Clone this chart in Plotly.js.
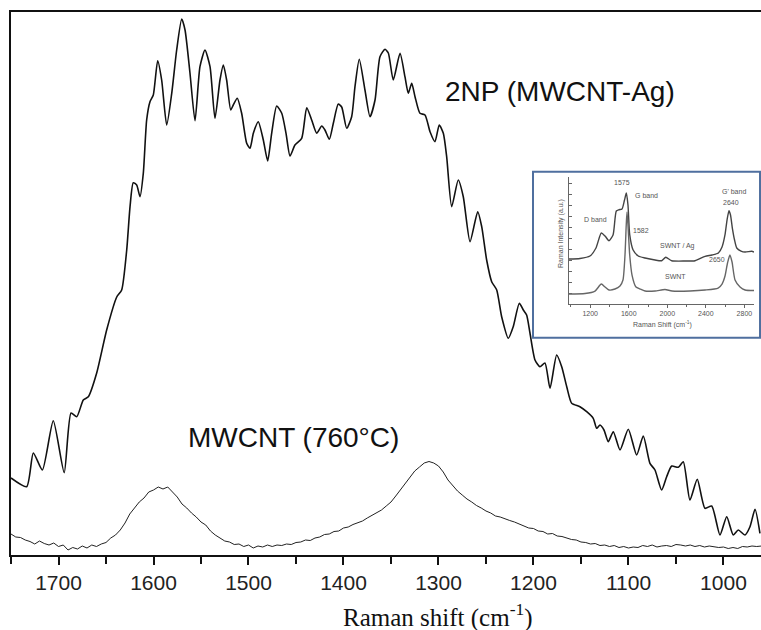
<!DOCTYPE html>
<html>
<head>
<meta charset="utf-8">
<script src="https://cdn.plot.ly/plotly-3.0.1.min.js"></script>
<style>html,body{margin:0;padding:0;background:#fff}#chart{width:761px;height:630px}</style>
</head>
<body>
<div id="chart"></div>
<script>
// ---- Main chart: 2NP (MWCNT-Ag) spectrum ----
const np2Shift = [1750,1733.5,1726.5,1717,1705.5,1694,1686.8,1680.8,1673.9,1668.6,1659.8,1649.3,1638.7,1633.5,1628.2,1624.7,1621.3,1617.7,1614.2,1610.7,1607.2,1603.7,1600.2,1595.6,1591.4,1586.1,1580.8,1575.6,1570.3,1566.8,1561.6,1556.3,1551.1,1545.8,1540.5,1535.3,1530,1526.5,1523,1518.7,1516,1511.8,1507.2,1501.9,1498.4,1494.9,1489.7,1484.4,1479.8,1475.6,1470.3,1465,1460.5,1456.3,1451.1,1444,1438.7,1433.5,1428.2,1422.9,1419.5,1414.9,1410.7,1405.5,1401.9,1396.6,1391.4,1387.9,1383.4,1377.4,1372.1,1366.8,1361.6,1356.3,1352.8,1347.6,1340.5,1335.3,1331.8,1328.2,1324.7,1319.5,1314.2,1308.9,1303.7,1299.2,1294.9,1291.4,1286.1,1279.2,1273.9,1266.8,1258.7,1254.5,1249.3,1244,1238.7,1233.5,1226.5,1221.3,1214.9,1210.7,1207.2,1203.7,1198.4,1193.2,1187.9,1182.6,1175.6,1170.3,1165,1159.8,1151.1,1144,1137.1,1133.5,1130,1125.8,1121.3,1116,1108.9,1100.2,1091.4,1084.4,1077.4,1072.1,1065.1,1059.8,1054.5,1047.6,1042.3,1035.3,1027.6,1019.5,1012.4,1003.7,996.6,989.7,984.4,977.4,972.1,966.8,961.6];
const np2Int = [77,68.3,102,85,134.3,82.3,142,138.3,155,158.3,182,225,258,265,305,348.3,372.3,370,358.3,382,435,453.3,460,494.3,475,430,461.7,505,536,525,482,434.3,488.3,505,488.3,436.7,475,490,475,445,450,456.7,441.7,411.7,406.7,421.7,433.3,415,394,421.7,449,441.7,421.7,399,410,416.7,447.3,435,421.7,429,425,415.7,431.7,451,448,426.7,438.3,468.3,495.7,465,438.3,455,498.3,505.7,502,475,501.7,478.3,461.7,471.7,458.3,441.7,440,423.3,413.3,430,421.7,398.3,348.3,375,358.3,313.3,343.3,328.3,295,273.3,265,238.3,216.7,228.3,251.7,245,240,222,195,188.3,192,166.7,200,188.3,168.3,151.7,148.3,143.3,136.7,126.7,130,125,113.3,123.3,105,125.7,100,119,91.7,85,65,78.3,89,87.7,93.3,55,75.7,46.7,49,20,38.3,20,25,20,28.3,45.7,21.7];

// ---- Main chart: MWCNT (760°C) spectrum ----
const mwShift = [1750,1745,1740,1735,1730,1725,1720,1715,1710,1705,1700,1695,1690,1685,1680,1675,1670,1665,1660,1655,1650,1645,1640,1635,1630,1625,1620,1615,1610,1605,1600,1595,1590,1585,1580,1575,1570,1565,1560,1555,1550,1545,1540,1535,1530,1525,1520,1515,1510,1505,1500,1495,1490,1485,1480,1475,1470,1465,1460,1455,1450,1445,1440,1435,1430,1425,1420,1415,1410,1405,1400,1395,1390,1385,1380,1375,1370,1365,1360,1355,1350,1345,1340,1335,1330,1325,1320,1315,1310,1305,1300,1295,1290,1285,1280,1275,1270,1265,1260,1255,1250,1245,1240,1235,1230,1225,1220,1215,1210,1205,1200,1195,1190,1185,1180,1175,1170,1165,1160,1155,1150,1145,1140,1135,1130,1125,1120,1115,1110,1105,1100,1095,1090,1085,1080,1075,1070,1065,1060,1055,1050,1045,1040,1035,1030,1025,1020,1015,1010,1005,1000,995,990,985,980,975,970,965,960];
const mwInt = [21,18,17.5,15,13.5,11,14,11.5,10,12,8.5,10,5,7.5,6,9,7,10,8.5,11,12.5,17,20,25,32,41,47,53,57,63,65,68,66,68,63,58,51,47,42,38,33,30,24,20,17,14,13,10.5,11,8.5,10,7,9,8,10,8.5,10,9.5,11,10.5,12.5,13,15,14.5,17,18,20.5,21,23.5,24,27,28,30.5,32,34,37,39.5,42,45,49,53,59,65,71,78,84,88,92,93.5,92,89,83,75,69,64,60,56,53,49.5,47,44,42,39,38,36,34.5,33,31,29.5,27,26.5,24,23.5,21,21.5,19,18.5,17,15.5,15,13,12.5,11,11.5,9.5,10,8.5,9.5,7.5,8.5,7,8,7.5,9.5,8.5,10,8,9,9.5,8.5,10.5,10,9,10,8.5,9.5,8,9,8.5,7.5,8,6.5,7.5,6.5,8.5,8,9,8.5,9];

// ---- Inset: SWNT / Ag and SWNT spectra ----
const swAgShift = [980,1094,1198,1260,1315,1354,1395,1437,1471,1499,1530,1556,1575,1592,1610,1644,1699,1769,1873,1942,1984,2046,2184,2288,2392,2464,2530,2568,2599,2620,2640,2656,2675,2698,2721,2765,2807,2876,2900];
const swAgInt = [45,45.5,48,56,71,68,63.3,69,93,94.3,95,104,111,99,69.3,54.3,48,46,44,43.3,46.7,43.3,43,43.3,47.7,49,51,57,69.3,84,93.3,89,76,64,56,53,52,52.7,52];
const swShift = [980,1146,1250,1315,1354,1395,1457,1509,1540,1561,1574,1582,1592,1610,1634,1675,1717,1769,1873,1976,2049,2236,2392,2527,2568,2599,2625,2650,2672,2703,2755,2807,2900];
const swInt = [10,10.5,13,20,17,14,15,18,24,49,79,92,79,49,29,17,15,13,13,14.5,13,13,14,16,20,28,41,49,42,24,17,14,13.5];

// ---- Labels ----
const mainXTicks = [1000,1100,1200,1300,1400,1500,1600,1700];
const insetXTicks = [1200,1600,2000,2400,2800];
const insetLabels = ["1575","G band","D band","1582","SWNT / Ag","G' band","2640","2650","SWNT"];
const insetLabelX = [1533,1779,1255,1727,2101,2692,2661,2516,2080];
const insetLabelY = [122,109,84.5,74,58,113,101.7,45,28];

const traces = [
  {x: np2Shift, y: np2Int, type: 'scatter', mode: 'lines', line: {color: '#111', width: 1.6, shape: 'spline', smoothing: 0.6}, xaxis: 'x', yaxis: 'y', hoverinfo: 'skip'},
  {x: mwShift, y: mwInt, type: 'scatter', mode: 'lines', line: {color: '#222', width: 1}, xaxis: 'x', yaxis: 'y', hoverinfo: 'skip'},
  {x: swAgShift, y: swAgInt, type: 'scatter', mode: 'lines', line: {color: '#444', width: 1.4, shape: 'spline', smoothing: 0.6}, xaxis: 'x2', yaxis: 'y2', hoverinfo: 'skip'},
  {x: swShift, y: swInt, type: 'scatter', mode: 'lines', line: {color: '#666', width: 1.4, shape: 'spline', smoothing: 0.6}, xaxis: 'x2', yaxis: 'y2', hoverinfo: 'skip'}
];

const annotations = [
  {text: '2NP (MWCNT-Ag)', xref: 'paper', yref: 'paper', x: 0.732, y: 0.8545, showarrow: false, xanchor: 'center', yanchor: 'middle', font: {family: 'Liberation Sans, Arial, sans-serif', size: 28, color: '#111'}},
  {text: 'MWCNT (760°C)', xref: 'paper', yref: 'paper', x: 0.376, y: 0.2155, showarrow: false, xanchor: 'center', yanchor: 'middle', font: {family: 'Liberation Sans, Arial, sans-serif', size: 28, color: '#111'}},
  {text: 'Raman shift (cm<sup>-1</sup>)', xref: 'paper', yref: 'paper', x: 0.5693, y: -0.112, showarrow: false, xanchor: 'center', yanchor: 'middle', font: {family: 'Liberation Serif, Times New Roman, serif', size: 25, color: '#111'}},
  {text: 'Raman Intensity (a.u.)', xref: 'paper', yref: 'paper', x: 0.7333, y: 0.593, showarrow: false, textangle: -90, xanchor: 'center', yanchor: 'middle', font: {family: 'Liberation Sans, Arial, sans-serif', size: 7, color: '#555'}},
  {text: 'Raman Shift (cm<sup>-1</sup>)', xref: 'paper', yref: 'paper', x: 0.8693, y: 0.4254, showarrow: false, xanchor: 'center', yanchor: 'middle', font: {family: 'Liberation Sans, Arial, sans-serif', size: 7, color: '#555'}}
];
insetLabels.forEach((t, i) => {
  annotations.push({text: t, xref: 'x2', yref: 'y2', x: insetLabelX[i], y: insetLabelY[i], showarrow: false, xanchor: 'center', yanchor: 'middle', font: {family: 'Liberation Sans, Arial, sans-serif', size: 7, color: '#555'}});
});

const layout = {
  width: 761, height: 630,
  margin: {l: 11, r: 0, t: 12, b: 75},
  paper_bgcolor: '#fff', plot_bgcolor: '#fff',
  showlegend: false,
  xaxis: {
    range: [1750, 960.5], autorange: false,
    tickmode: 'array', tickvals: mainXTicks, ticktext: mainXTicks.map(String),
    ticks: 'outside', ticklen: 8, tickwidth: 2, tickcolor: '#111',
    minor: {dtick: 50, tick0: 1000, ticks: 'outside', ticklen: 7, tickwidth: 2, tickcolor: '#111'},
    showline: true, linewidth: 2, linecolor: '#111', mirror: true,
    showgrid: false, zeroline: false,
    tickfont: {family: 'Liberation Sans, Arial, sans-serif', size: 21, color: '#222'}
  },
  yaxis: {
    range: [0, 543], autorange: false,
    showline: true, linewidth: 2, linecolor: '#111',
    showticklabels: false, ticks: '', showgrid: false, zeroline: false
  },
  xaxis2: {
    domain: [0.744, 0.9907], anchor: 'y2',
    range: [980, 2900], autorange: false,
    tickmode: 'array', tickvals: insetXTicks, ticktext: insetXTicks.map(String),
    ticks: 'outside', ticklen: 3, tickwidth: 1, tickcolor: '#666',
    minor: {tickvals: [1000,1400,1800,2200,2600], ticks: 'outside', ticklen: 2, tickwidth: 1, tickcolor: '#666'},
    showline: true, linewidth: 1, linecolor: '#666',
    showgrid: false, zeroline: false,
    tickfont: {family: 'Liberation Sans, Arial, sans-serif', size: 7, color: '#555'}
  },
  yaxis2: {
    domain: [0.4622, 0.6961], anchor: 'x2',
    range: [0, 127], autorange: false,
    dtick: 11, tick0: 0,
    ticks: 'inside', ticklen: 3, tickwidth: 1, tickcolor: '#666',
    showline: true, linewidth: 1, linecolor: '#666',
    showticklabels: false, showgrid: false, zeroline: false
  },
  shapes: [
    {type: 'rect', xref: 'paper', yref: 'paper', x0: 0.696, x1: 0.9987, y0: 0.4002, y1: 0.7059, line: {color: '#4f6f9f', width: 2}, fillcolor: 'rgba(0,0,0,0)', layer: 'above'}
  ],
  annotations: annotations
};

Plotly.newPlot('chart', traces, layout, {staticPlot: true, displayModeBar: false});
</script>
</body>
</html>
